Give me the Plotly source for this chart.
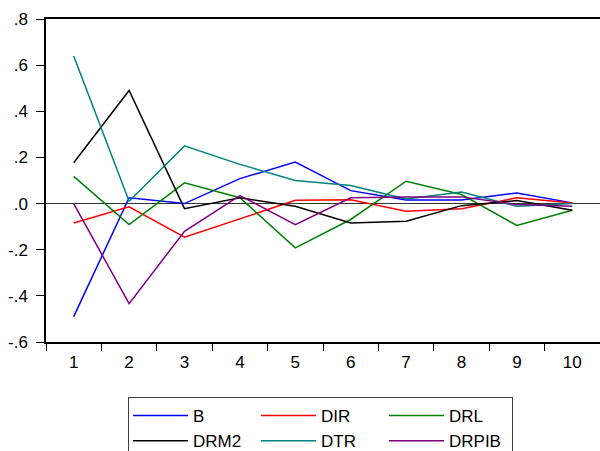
import plotly.graph_objects as go

periods = ["1", "2", "3", "4", "5", "6", "7", "8", "9", "10"]

B = [-0.49, 0.025, 0.0, 0.108, 0.18, 0.056, 0.015, 0.015, 0.046, 0.003]
DIR = [-0.084, -0.014, -0.146, -0.065, 0.014, 0.017, -0.033, -0.022, 0.025, 0.003]
DRL = [0.118, -0.091, 0.09, 0.025, -0.192, -0.069, 0.097, 0.039, -0.095, -0.029]
DRM2 = [0.177, 0.49, -0.022, 0.025, -0.012, -0.084, -0.077, -0.009, 0.013, -0.029]
DTR = [0.64, 0.01, 0.25, 0.17, 0.10, 0.078, 0.02, 0.05, -0.012, 0.0]
DRPIB = [0.0, -0.434, -0.12, 0.035, -0.091, 0.025, 0.029, 0.029, -0.004, -0.012]

y_tickvals = [-0.6, -0.4, -0.2, 0.0, 0.2, 0.4, 0.6, 0.8]
y_ticktext = ["-.6", "-.4", "-.2", ".0", ".2", ".4", ".6", ".8"]

# (name, values, colour, legend column)
series = [
    ("B", B, "#0000ff", "c1"),
    ("DIR", DIR, "#ff0000", "c2"),
    ("DRL", DRL, "#008000", "c3"),
    ("DRM2", DRM2, "#000000", "c1"),
    ("DTR", DTR, "#008080", "c2"),
    ("DRPIB", DRPIB, "#800080", "c3"),
]

fig = go.Figure()
for name, vals, col, grp in series:
    fig.add_trace(go.Scatter(x=periods, y=vals, name=name, mode="lines",
                             legendgroup=grp,
                             line=dict(color=col, width=1.5)))

W, H = 600, 451
ml, mr, mt, mb = 46, 0, 19, 109

fig.update_layout(
    width=W, height=H,
    margin=dict(l=ml, r=mr, t=mt, b=mb, pad=0, autoexpand=False),
    plot_bgcolor="white", paper_bgcolor="white",
    font=dict(family="Liberation Sans, Arial, sans-serif", size=17, color="black"),
    showlegend=True,
    legend=dict(
        orientation="h",
        x=(128 - ml) / (W - ml - mr), xanchor="left",
        y=-(397 - (H - mb)) / (H - mt - mb), yanchor="top",
        bordercolor="#404040", borderwidth=1,
        tracegroupgap=0, itemwidth=55,
        entrywidth=58, entrywidthmode="pixels",
        font=dict(size=17),
        traceorder="grouped",
    ),
    xaxis=dict(
        type="category",
        tickson="boundaries",
        ticks="outside", ticklen=7, tickcolor="black", tickwidth=1,
        ticklabelstandoff=4,
        showline=True, linecolor="black", linewidth=1.5, mirror=True,
        showgrid=False, zeroline=False, automargin=False,
        range=[-0.5, 9.5],
    ),
    yaxis=dict(
        range=[-0.6, 0.8],
        tickvals=y_tickvals, ticktext=y_ticktext,
        ticks="outside", ticklen=8, tickcolor="black", tickwidth=1,
        ticklabelstandoff=5,
        showline=True, linecolor="black", linewidth=1.5, mirror=False,
        showgrid=False, automargin=False,
        zeroline=True, zerolinecolor="#333333", zerolinewidth=1,
    ),
)

fig.write_html("out.html", config={"displayModeBar": False},
               post_script="document.body.style.margin='0';document.body.style.overflow='hidden';")
